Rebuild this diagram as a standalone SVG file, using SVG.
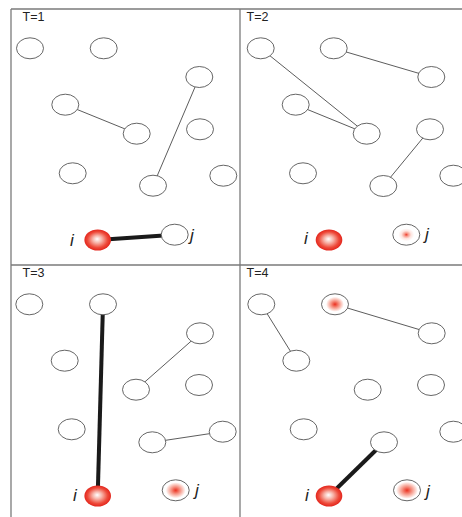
<svg xmlns="http://www.w3.org/2000/svg" width="462" height="517" viewBox="0 0 462 517">
<defs>
<radialGradient id="redNode" cx="50%" cy="50%" r="50%" fx="48%" fy="45%">
<stop offset="0" stop-color="#ffffff"/>
<stop offset="0.35" stop-color="#f7b3a8"/>
<stop offset="0.75" stop-color="#ee4a3a"/>
<stop offset="1" stop-color="#e3261d"/>
</radialGradient>
<radialGradient id="dotSmall" cx="50%" cy="50%" r="50%">
<stop offset="0" stop-color="#ee3a2a"/>
<stop offset="0.25" stop-color="#f79a8c"/>
<stop offset="0.6" stop-color="#fde4df"/>
<stop offset="1" stop-color="#ffffff"/>
</radialGradient>
<radialGradient id="dotLarge" cx="50%" cy="50%" r="50%">
<stop offset="0" stop-color="#ec3020"/>
<stop offset="0.4" stop-color="#f48a7a"/>
<stop offset="0.8" stop-color="#fcd9d2"/>
<stop offset="1" stop-color="#ffffff"/>
</radialGradient>
<style>
.frame{fill:none;stroke:#7a7a7a;stroke-width:1.3}
.n{fill:#ffffff;stroke:#555555;stroke-width:0.9}
.red{fill:url(#redNode);stroke:none}
.e{stroke:#4a4a4a;stroke-width:0.9;fill:none}
.E{stroke:#1a1a1a;stroke-width:4;fill:none}
.t{font-family:"Liberation Sans",Arial,sans-serif;font-size:12.5px;fill:#222}
.l{font-family:"Liberation Sans",Arial,sans-serif;font-size:17px;font-style:italic;fill:#222}
</style>
</defs>
<g id="frames">
<line class="frame" x1="11" y1="9" x2="462" y2="9"/>
<line class="frame" x1="11" y1="9" x2="11" y2="517"/>
<line class="frame" x1="240" y1="9" x2="240" y2="517"/>
<line class="frame" x1="11" y1="265" x2="462" y2="265"/>
</g>
<g id="connectors">
<line class="e" x1="65.3" y1="104.7" x2="136.7" y2="133.7"/>
<line class="e" x1="199.3" y1="77" x2="153" y2="185.7"/>
<line class="E" x1="97.7" y1="240" x2="174.7" y2="234.7"/>
<line class="e" x1="260.7" y1="48.3" x2="366.7" y2="133.7"/>
<line class="e" x1="295.7" y1="104.7" x2="366.7" y2="133.7"/>
<line class="e" x1="333.7" y1="48.3" x2="431.3" y2="77"/>
<line class="e" x1="430" y1="129.3" x2="383.3" y2="186"/>
<line class="E" x1="103" y1="304.3" x2="97.7" y2="496"/>
<line class="e" x1="200" y1="333.3" x2="136" y2="389.7"/>
<line class="e" x1="152.3" y1="442.3" x2="222.7" y2="431.7"/>
<line class="e" x1="261.3" y1="304.3" x2="296.3" y2="360.7"/>
<line class="e" x1="335" y1="304.3" x2="431.7" y2="333.3"/>
<line class="E" x1="384" y1="442.3" x2="329" y2="496"/>
</g>
<g id="panel1">
<text class="t" x="22.5" y="21">T=1</text>
<g id="p1n1"><ellipse class="n" cx="30" cy="48.3" rx="13.5" ry="10.5"/></g>
<g id="p1n2"><ellipse class="n" cx="103.7" cy="48.3" rx="13.5" ry="10.5"/></g>
<g id="p1n3"><ellipse class="n" cx="199.3" cy="77" rx="13.5" ry="10.5"/></g>
<g id="p1n4"><ellipse class="n" cx="65.3" cy="104.7" rx="13.5" ry="10.5"/></g>
<g id="p1n5"><ellipse class="n" cx="136.7" cy="133.7" rx="13.5" ry="10.5"/></g>
<g id="p1n6"><ellipse class="n" cx="200" cy="129.3" rx="13.5" ry="10.5"/></g>
<g id="p1n7"><ellipse class="n" cx="72.7" cy="173.3" rx="13.5" ry="10.5"/></g>
<g id="p1n8"><ellipse class="n" cx="153" cy="185.7" rx="13.5" ry="10.5"/></g>
<g id="p1n9"><ellipse class="n" cx="223.3" cy="175.7" rx="13.5" ry="10.5"/></g>
<g id="p1i"><ellipse class="red" cx="97.7" cy="240" rx="13.3" ry="10.5"/><text class="l" x="70" y="245.5">i</text></g>
<g id="p1j"><ellipse class="n" cx="174.7" cy="234.7" rx="13.5" ry="10.5"/><text class="l" x="190" y="241">j</text></g>
</g>
<g id="panel2">
<text class="t" x="246.5" y="21">T=2</text>
<g id="p2n1"><ellipse class="n" cx="260.7" cy="48.3" rx="13.5" ry="10.5"/></g>
<g id="p2n2"><ellipse class="n" cx="333.7" cy="48.3" rx="13.5" ry="10.5"/></g>
<g id="p2n3"><ellipse class="n" cx="431.3" cy="77" rx="13.5" ry="10.5"/></g>
<g id="p2n4"><ellipse class="n" cx="295.7" cy="104.7" rx="13.5" ry="10.5"/></g>
<g id="p2n5"><ellipse class="n" cx="366.7" cy="133.7" rx="13.5" ry="10.5"/></g>
<g id="p2n6"><ellipse class="n" cx="430" cy="129.3" rx="13.5" ry="10.5"/></g>
<g id="p2n7"><ellipse class="n" cx="303" cy="173.3" rx="13.5" ry="10.5"/></g>
<g id="p2n8"><ellipse class="n" cx="383.3" cy="186" rx="13.5" ry="10.5"/></g>
<g id="p2n9"><ellipse class="n" cx="453.3" cy="175.7" rx="13.5" ry="10.5"/></g>
<g id="p2i"><ellipse class="red" cx="329" cy="240" rx="13.3" ry="10.5"/><text class="l" x="304" y="244">i</text></g>
<g id="p2j"><ellipse class="n" cx="406.3" cy="234.7" rx="13.5" ry="10.5"/><ellipse cx="406.3" cy="234.7" rx="8" ry="6.5" fill="url(#dotSmall)"/><text class="l" x="425" y="239.5">j</text></g>
</g>
<g id="panel3">
<text class="t" x="22.5" y="277">T=3</text>
<g id="p3n1"><ellipse class="n" cx="29.3" cy="304.3" rx="13.5" ry="10.5"/></g>
<g id="p3n2"><ellipse class="n" cx="103" cy="304.3" rx="13.5" ry="10.5"/></g>
<g id="p3n3"><ellipse class="n" cx="200" cy="333.3" rx="13.5" ry="10.5"/></g>
<g id="p3n4"><ellipse class="n" cx="64.7" cy="360.7" rx="13.5" ry="10.5"/></g>
<g id="p3n5"><ellipse class="n" cx="136" cy="389.7" rx="13.5" ry="10.5"/></g>
<g id="p3n6"><ellipse class="n" cx="199" cy="385" rx="13.5" ry="10.5"/></g>
<g id="p3n7"><ellipse class="n" cx="71.7" cy="429.3" rx="13.5" ry="10.5"/></g>
<g id="p3n8"><ellipse class="n" cx="152.3" cy="442.3" rx="13.5" ry="10.5"/></g>
<g id="p3n9"><ellipse class="n" cx="222.7" cy="431.7" rx="13.5" ry="10.5"/></g>
<g id="p3i"><ellipse class="red" cx="97.7" cy="496" rx="13.3" ry="10.5"/><text class="l" x="73" y="501">i</text></g>
<g id="p3j"><ellipse class="n" cx="175.7" cy="490.3" rx="13.5" ry="10.5"/><ellipse cx="175.7" cy="490.3" rx="10" ry="8" fill="url(#dotLarge)"/><text class="l" x="195" y="496">j</text></g>
</g>
<g id="panel4">
<text class="t" x="246.5" y="277">T=4</text>
<g id="p4n1"><ellipse class="n" cx="261.3" cy="304.3" rx="13.5" ry="10.5"/></g>
<g id="p4n2"><ellipse class="n" cx="335" cy="304.3" rx="13.5" ry="10.5"/><ellipse cx="335" cy="304.3" rx="9" ry="7.5" fill="url(#dotLarge)"/></g>
<g id="p4n3"><ellipse class="n" cx="431.7" cy="333.3" rx="13.5" ry="10.5"/></g>
<g id="p4n4"><ellipse class="n" cx="296.3" cy="360.7" rx="13.5" ry="10.5"/></g>
<g id="p4n5"><ellipse class="n" cx="367.7" cy="389.7" rx="13.5" ry="10.5"/></g>
<g id="p4n6"><ellipse class="n" cx="431" cy="385" rx="13.5" ry="10.5"/></g>
<g id="p4n7"><ellipse class="n" cx="303.7" cy="429.3" rx="13.5" ry="10.5"/></g>
<g id="p4n8"><ellipse class="n" cx="384" cy="442.3" rx="13.5" ry="10.5"/></g>
<g id="p4n9"><ellipse class="n" cx="453.3" cy="431.7" rx="13.5" ry="10.5"/></g>
<g id="p4i"><ellipse class="red" cx="329" cy="496" rx="13.3" ry="10.5"/><text class="l" x="305" y="501">i</text></g>
<g id="p4j"><ellipse class="n" cx="407" cy="490.3" rx="13.5" ry="10.5"/><ellipse cx="407" cy="490.3" rx="11" ry="8.5" fill="url(#dotLarge)"/><text class="l" x="426" y="497">j</text></g>
</g>
</svg>
